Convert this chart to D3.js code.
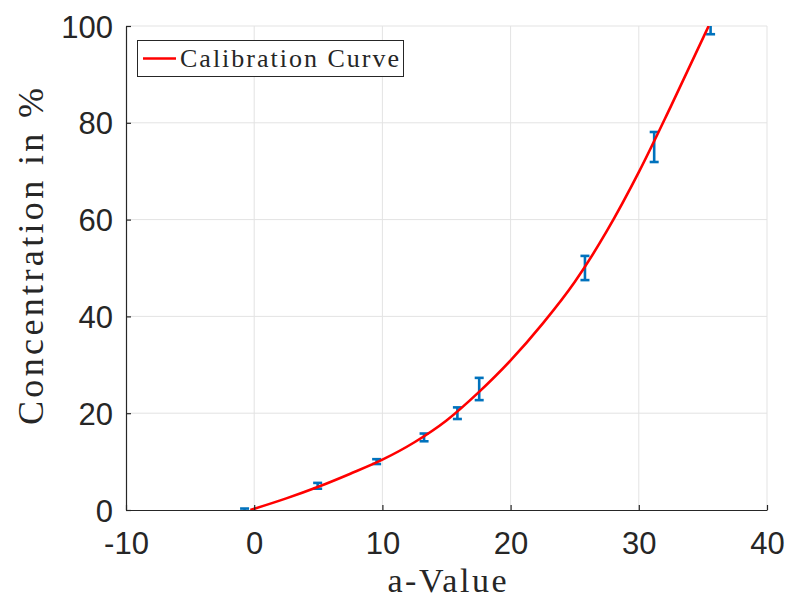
<!DOCTYPE html>
<html>
<head>
<meta charset="utf-8">
<script src="https://cdn.jsdelivr.net/npm/d3@7"></script>
<style>
  html, body { margin: 0; padding: 0; background: #fff; }
  svg { display: block; }
</style>
</head>
<body>
<svg id="chart" width="789" height="598"></svg>
<script>
// ---- data ----
const curveX = [-0.3, 2.5, 5, 7.5, 10, 12.5, 15, 17.5, 20, 22.5, 25, 27.5, 30, 32.5, 35.45];
const curveY = [0, 2.4, 4.8, 7.5, 10.4, 14.0, 18.5, 24.3, 30.9, 38.5, 47.1, 57.6, 69.8, 83.4, 100];
const pointX = [-0.75, 4.95, 9.55, 13.25, 15.85, 17.55, 25.8, 31.2, 35.6];
const pointY = [0, 5, 10, 15, 20, 25, 50, 75, 100];
const pointErr = [0.3, 0.6, 0.5, 0.8, 1.2, 2.3, 2.5, 3.1, 1.7];
const xTicks = [-10, 0, 10, 20, 30, 40];
const yTicks = [0, 20, 40, 60, 80, 100];
const legendLabel = "Calibration Curve";
const xLabel = "a-Value";
const yLabel = "Concentration in %";

// ---- layout ----
const L = 126, R = 767, T = 26, B = 510;
const svg = d3.select("#chart");
const x = d3.scaleLinear().domain([-10, 40]).range([L, R]);
const y = d3.scaleLinear().domain([0, 100]).range([B, T]);

const axisColor = "#262626";
const gridColor = "#e3e3e3";

// grid
const grid = svg.append("g");
grid.selectAll(".gx").data(xTicks.filter(d => d !== -10)).enter().append("line")
  .attr("x1", d => x(d)).attr("x2", d => x(d)).attr("y1", T).attr("y2", B)
  .attr("stroke", gridColor).attr("stroke-width", 1);
grid.selectAll(".gy").data(yTicks.filter(d => d !== 0)).enter().append("line")
  .attr("x1", L).attr("x2", R).attr("y1", d => y(d)).attr("y2", d => y(d))
  .attr("stroke", gridColor).attr("stroke-width", 1);

// clip
svg.append("clipPath").attr("id", "clip").append("rect")
  .attr("x", L).attr("y", T).attr("width", R - L).attr("height", B - T);

const plot = svg.append("g").attr("clip-path", "url(#clip)");

// error bars
const blue = "#0072BD";
const capW = 4.5;
const eb = plot.append("g").attr("stroke", blue).attr("stroke-width", 2.6).attr("fill", "none");
pointX.forEach((px, i) => {
  const cx = x(px), y1 = y(pointY[i] - pointErr[i]), y2 = y(pointY[i] + pointErr[i]);
  eb.append("line").attr("x1", cx).attr("x2", cx).attr("y1", y1).attr("y2", y2);
  eb.append("line").attr("x1", cx - capW).attr("x2", cx + capW).attr("y1", y1).attr("y2", y1);
  eb.append("line").attr("x1", cx - capW).attr("x2", cx + capW).attr("y1", y2).attr("y2", y2);
});

// curve
const curveData = curveX.map((d, i) => [d, curveY[i]]);
plot.append("path").datum(curveData)
  .attr("d", d3.line().x(d => x(d[0])).y(d => y(d[1])).curve(d3.curveMonotoneX))
  .attr("fill", "none").attr("stroke", "#ff0000").attr("stroke-width", 2.6);

// axes
const fmt = d => String(d);
const xAxis = d3.axisBottom(x).tickValues(xTicks).tickSizeInner(-5).tickSizeOuter(0).tickPadding(22)
  .tickFormat(fmt);
const gx = svg.append("g").attr("transform", `translate(0,${B})`).call(xAxis);
const yAxis = d3.axisLeft(y).tickValues(yTicks).tickSizeInner(-5).tickSizeOuter(0).tickPadding(13)
  .tickFormat(fmt);
const gy = svg.append("g").attr("transform", `translate(${L},0)`).call(yAxis);

[gx, gy].forEach(g => {
  g.select(".domain").attr("stroke", axisColor).attr("stroke-width", 1.2);
  g.selectAll(".tick line").attr("stroke", axisColor).attr("stroke-width", 1.2);
  g.selectAll(".tick text").attr("fill", axisColor)
    .style("font-family", "'Liberation Sans', Arial, sans-serif").style("font-size", "31px");
});
gx.selectAll(".tick text").attr("dy", "0.71em");
gy.selectAll(".tick text").attr("dy", "0.36em");

// axis labels
svg.append("text").attr("x", (L + R) / 2 + 0.5).attr("y", 592)
  .attr("text-anchor", "middle").attr("fill", axisColor)
  .style("font-family", "'Liberation Serif', 'Times New Roman', serif").style("font-size", "34px")
  .attr("textLength", 119).attr("lengthAdjust", "spacing")
  .text(xLabel);
svg.append("text").attr("transform", `translate(43,${(88 + 425) / 2}) rotate(-90)`)
  .attr("text-anchor", "middle").attr("fill", axisColor)
  .style("font-family", "'Liberation Serif', 'Times New Roman', serif").style("font-size", "36px")
  .attr("textLength", 337).attr("lengthAdjust", "spacing")
  .text(yLabel);

// legend
const lg = svg.append("g");
lg.append("rect").attr("x", 137.5).attr("y", 40.5).attr("width", 266).attr("height", 36)
  .attr("fill", "#fff").attr("stroke", axisColor).attr("stroke-width", 1);
lg.append("line").attr("x1", 143).attr("x2", 176).attr("y1", 58.5).attr("y2", 58.5)
  .attr("stroke", "#ff0000").attr("stroke-width", 2.6);
lg.append("text").attr("x", 180).attr("y", 66.5)
  .attr("fill", axisColor)
  .style("font-family", "'Liberation Serif', 'Times New Roman', serif").style("font-size", "26px")
  .attr("textLength", 219).attr("lengthAdjust", "spacing")
  .text(legendLabel);
</script>
</body>
</html>
